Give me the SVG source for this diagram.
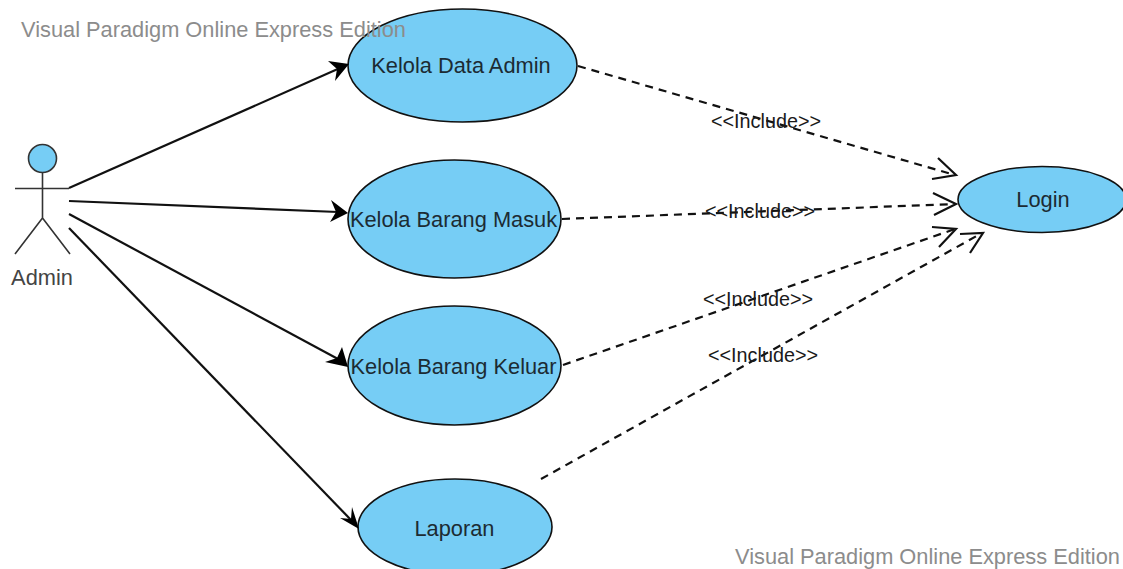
<svg xmlns="http://www.w3.org/2000/svg" width="1123" height="569" viewBox="0 0 1123 569">
<style>
text{font-family:"Liberation Sans",Arial,sans-serif;font-size:21.8px;fill:#1c2b33;text-anchor:middle}
.uc{fill:#76cdf5;stroke:#111;stroke-width:1.6}
.wm{fill:#8c8c8c;text-anchor:start}
.lb{font-size:19.800px;fill:#1a1a1a}
.s{fill:none;stroke:#111;stroke-width:2.200}
.d{fill:none;stroke:#111;stroke-width:2.200;stroke-dasharray:8 6}
.o{fill:none;stroke:#111;stroke-width:2.200}
.ah{fill:#000;stroke:none}
.fig{fill:none;stroke:#333;stroke-width:1.600}
</style>
<rect width="1123" height="569" fill="#fff"/>
<g id="uc1"><ellipse class="uc" cx="462.5" cy="65.5" rx="114.5" ry="56.5"/><text x="461" y="73">Kelola Data Admin</text></g>
<g id="uc2"><ellipse class="uc" cx="454.5" cy="219" rx="106.5" ry="59"/><text x="453.500" y="227">Kelola Barang Masuk</text></g>
<g id="uc3"><ellipse class="uc" cx="454.5" cy="365.5" rx="106.5" ry="59.5"/><text x="453.500" y="374">Kelola Barang Keluar</text></g>
<g id="uc4"><ellipse class="uc" cx="455" cy="527" rx="97" ry="48"/><text x="454.500" y="536">Laporan</text></g>
<g id="login"><ellipse class="uc" cx="1042" cy="199.500" rx="84" ry="33"/><text x="1043" y="207">Login</text></g>
<g id="admin">
<circle cx="42.500" cy="158.500" r="14" fill="#76cdf5" stroke="#333" stroke-width="1.600"/>
<path class="fig" d="M42.500 172.500V218M15 188.500H69M42.500 218L15 254M42.500 218L70 254"/>
<text x="42" y="285" style="fill:#444">Admin</text>
</g>
<g id="connectors">
<path class="s" d="M69 188L340 68"/><path class="ah" d="M349 64L335 81L337 69L328 61Z"/>
<path class="s" d="M69 201L338 212"/><path class="ah" d="M348 213L330 222L336 212L331 200Z"/>
<path class="s" d="M69 214L338 359"/><path class="ah" d="M348 367L325 362L337 358L342 347Z"/>
<path class="s" d="M69 228L352 521"/><path class="ah" d="M359 529L340 518L351 519L352 507Z"/>
<path class="d" d="M578 66L955 175"/><path class="o" d="M938 158L956 175L932 179"/>
<path class="d" d="M562 219L955 204"/><path class="o" d="M933 193L956 204L934 215"/>
<path class="d" d="M563 365L955 229"/><path class="o" d="M932 227L956 229L939 247"/>
<path class="d" d="M541 479L982 233"/><path class="o" d="M960 234L983 233L970 253"/>
</g>
<g id="labels">
<text class="lb" x="766" y="128">&lt;&lt;Include&gt;&gt;</text>
<text class="lb" x="760" y="218">&lt;&lt;Include&gt;&gt;</text>
<text class="lb" x="758" y="306">&lt;&lt;Include&gt;&gt;</text>
<text class="lb" x="763" y="362">&lt;&lt;Include&gt;&gt;</text>
</g>
<text class="wm" x="21" y="37">Visual Paradigm Online Express Edition</text>
<text class="wm" x="735" y="564">Visual Paradigm Online Express Edition</text>
</svg>
